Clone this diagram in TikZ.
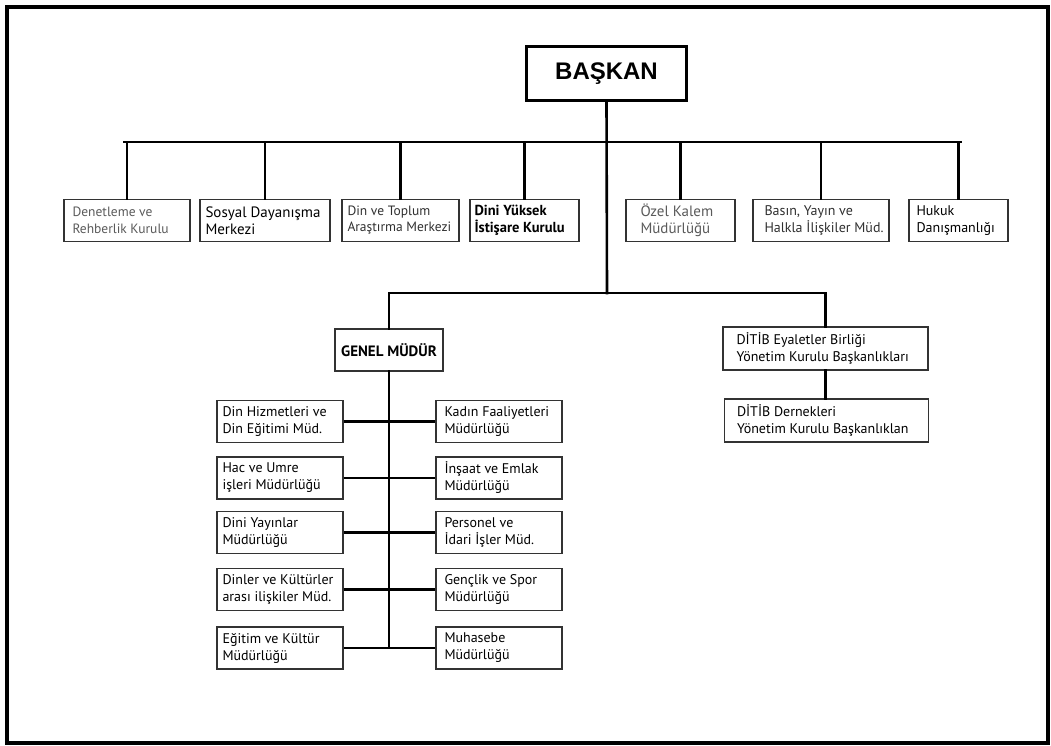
\documentclass[tikz,border=0pt]{standalone}
\usepackage{fontspec}
\setmainfont{PT Sans}
\newfontfamily\arialfont{Liberation Sans}
\definecolor{txtgray}{HTML}{5A5A5A}
\definecolor{txtdark}{HTML}{303030}
\begin{document}
\begin{tikzpicture}[x=1pt,y=1pt,
  box/.style={draw=black!80, line width=1.4pt, inner sep=0pt, minimum height=42pt},
  txt/.style={anchor=west, align=left, inner sep=0pt, font=\fontsize{14}{17}\selectfont},
  conn/.style={line width=2.6pt, line cap=rect},
  hconn/.style={line width=2.4pt}]
\useasboundingbox (0,0) rectangle (1051,-746);
\draw[line width=4pt] (7,-7) rectangle (1048,-743);

% top
\node[draw, line width=3.6pt, minimum width=160pt, minimum height=54pt, font=\arialfont\bfseries\fontsize{24}{28}\selectfont] (baskan) at (606.5,-73.5) {BAŞKAN};

% first level
\node[box, minimum width=126pt, label={[txt, text=txtgray, xshift=9pt, font=\fontsize{13.5}{17}\selectfont]west:{Denetleme ve\\Rehberlik Kurulu}}] (n1) at (127,-220.5) {};
\node[box, minimum width=130pt, label={[txt, xshift=6pt, font=\fontsize{15}{17}\selectfont]west:{Sosyal Dayanışma\\Merkezi}}] (n2) at (265,-220.5) {};
\node[box, minimum width=117pt, label={[txt, text=txtdark, xshift=6pt, font=\fontsize{13.5}{16}\selectfont]west:{Din ve Toplum\\Araştırma Merkezi}}] (n3) at (400.5,-220.5) {};
\node[box, minimum width=109pt, label={[txt, xshift=5pt, font=\bfseries\fontsize{14.5}{17}\selectfont]west:{Dini Yüksek\\İstişare Kurulu}}] (n4) at (524.5,-220.5) {};
\node[box, minimum width=109pt, label={[txt, text=txtgray, xshift=15pt, font=\fontsize{15}{17}\selectfont]west:{Özel Kalem\\Müdürlüğü}}] (n5) at (680.5,-220.5) {};
\node[box, minimum width=136pt, label={[txt, text=txtdark, xshift=12pt]west:{Basın, Yayın ve\\Halkla İlişkiler Müd.}}] (n6) at (821,-220.5) {};
\node[box, minimum width=99pt, label={[txt, xshift=8pt]west:{Hukuk\\Danışmanlığı}}] (n7) at (958.5,-220.5) {};

\coordinate (barL) at (124,-142);
\coordinate (barR) at (961,-142);
\coordinate (low) at (607,-293);
\draw[conn] (barL) -- (barR);
\draw[conn] (baskan.south) -- (low);
\foreach \n in {n1,n2,n3,n4,n5,n6,n7}{
  \draw[conn] (\n.north) -- (\n.north |- barL);
}

% second level
\node[box, minimum width=108pt, font=\bfseries\fontsize{15}{17}\selectfont] (gm) at (389,-350) {GENEL MÜDÜR};
\node[box, minimum width=205pt, minimum height=43pt, label={[txt, xshift=14pt]west:{DİTİB Eyaletler Birliği\\Yönetim Kurulu Başkanlıkları}}] (d1) at (825.5,-348.5) {};
\node[box, minimum width=204pt, minimum height=43pt, label={[txt, xshift=13pt]west:{DİTİB Dernekleri\\Yönetim Kurulu Başkanlıklan}}] (d2) at (826.5,-420.5) {};

\draw[conn] (gm.north |- low) -- (d1.north |- low);
\draw[conn] (gm.north) -- (gm.north |- low);
\draw[conn] (d1.north) -- (d1.north |- low);
\draw[conn] (d1.south) -- (d1.south |- d2.north);

% departments
\foreach \nm/\y/\txt in {L1/421.5/{Din Hizmetleri ve\\Din Eğitimi Müd.},
  L2/478/{Hac ve Umre\\işleri Müdürlüğü},
  L3/532.5/{Dini Yayınlar\\Müdürlüğü},
  L4/589.5/{Dinler ve Kültürler\\arası ilişkiler Müd.},
  L5/648/{Eğitim ve Kültür\\Müdürlüğü}}{
  \node[box, minimum width=126pt, label={[txt, xshift=6pt]west:{\txt}}] (\nm) at (280,-\y) {};
}
\foreach \nm/\y/\txt in {R1/421.5/{Kadın Faaliyetleri\\Müdürlüğü},
  R2/478/{İnşaat ve Emlak\\Müdürlüğü},
  R3/532.5/{Personel ve\\İdari İşler Müd.},
  R4/589.5/{Gençlik ve Spor\\Müdürlüğü},
  R5/648/{Muhasebe\\Müdürlüğü}}{
  \node[box, minimum width=126pt, label={[txt, xshift=9pt]west:{\txt}}] (\nm) at (499,-\y) {};
}
\draw[conn] (gm.south) -- (gm.south |- L5.east);
\foreach \i in {1,...,5}{
  \draw[hconn] (L\i.east) -- (R\i.west);
}
\end{tikzpicture}
\end{document}
